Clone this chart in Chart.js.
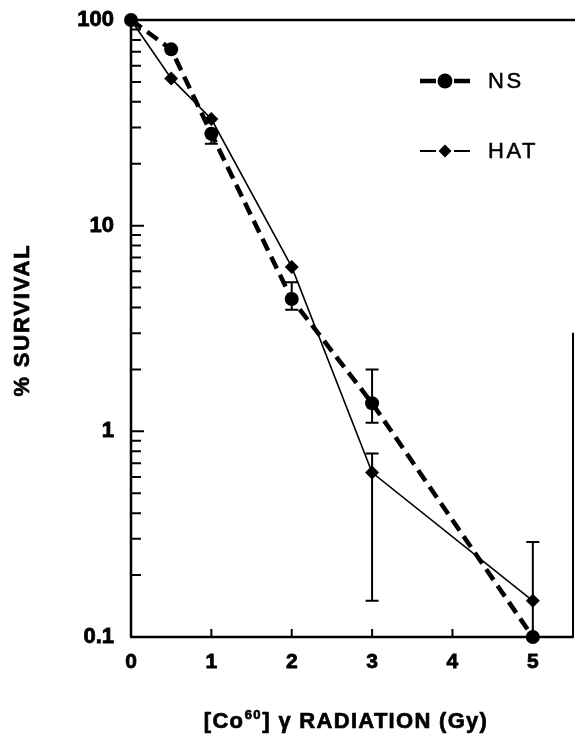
<!DOCTYPE html>
<html><head><meta charset="utf-8">
<script src="https://cdn.jsdelivr.net/npm/chart.js@4.4.1/dist/chart.umd.min.js"></script>
<style>html,body{margin:0;padding:0;background:#fff;overflow:hidden;}</style>
</head><body>
<canvas id="c" width="575" height="736"></canvas>
<script>
// ---- data ----
const doses = [0, 0.5, 1, 2, 3, 5];
const nsSurvival = [100, 72, 28, 4.4, 1.37, 0.1];
const hatSurvival = [100, 52, 33, 6.3, 0.63, 0.15];
const nsErrLow = [null, null, 25, 3.9, 1.1, null];
const nsErrHigh = [null, null, null, 5.3, 2.0, null];
const hatErrLow = [null, null, null, null, 0.15, 0.1];
const hatErrHigh = [null, null, null, null, 0.78, 0.29];
const xTicks = [0, 1, 2, 3, 4, 5];
const yTicks = [0.1, 1, 10, 100];
const seriesNames = ['NS', 'HAT'];
const xTitleParts = ['[Co', '60', '] \u03B3 RADIATION (Gy)'];
const yTitle = '% SURVIVAL';

const FONT = '"Liberation Sans", Arial, Helvetica, sans-serif';

function pts(ys){ return doses.map((x,i)=>({x:x, y:ys[i]})); }

const frame = {
  id:'frame',
  beforeDatasetsDraw(chart){
    const {ctx, chartArea:ca, scales:{x, y}} = chart;
    ctx.save();
    ctx.strokeStyle = '#000';
    ctx.lineCap = 'butt';
    ctx.lineWidth = 2.5;
    ctx.beginPath();
    ctx.moveTo(ca.left, ca.top); ctx.lineTo(chart.width, ca.top);
    ctx.moveTo(ca.left, ca.top - 1); ctx.lineTo(ca.left, ca.bottom);
    ctx.moveTo(ca.left - 1, ca.bottom); ctx.lineTo(ca.right, ca.bottom);
    ctx.stroke();
    ctx.lineWidth = 2;
    ctx.beginPath();
    ctx.moveTo(ca.right, ca.top + 0.507*(ca.bottom-ca.top)); ctx.lineTo(ca.right, ca.bottom + 1);
    ctx.stroke();
    // inward y ticks (log minor + major)
    ctx.beginPath();
    for (let d = 0.1; d < 100; d *= 10) {
      for (let m = 1; m <= 9; m++) {
        if (m === 1 && d < 0.5) continue;
        const py = y.getPixelForValue(d*m);
        const len = m === 1 ? 13 : 10;
        ctx.moveTo(ca.left, py); ctx.lineTo(ca.left + len, py);
      }
    }
    ctx.stroke();
    // inward x ticks
    ctx.beginPath();
    xTicks.forEach(v => {
      if (v === 0) return;
      const px = x.getPixelForValue(v);
      ctx.moveTo(px, ca.bottom); ctx.lineTo(px, ca.bottom - 8);
    });
    ctx.stroke();
    // error bars
    const bars = [[nsErrLow, nsErrHigh, nsSurvival], [hatErrLow, hatErrHigh, hatSurvival]];
    ctx.lineWidth = 2;
    bars.forEach(([lo, hi, val]) => {
      doses.forEach((d, i) => {
        const px = x.getPixelForValue(d);
        const pv = y.getPixelForValue(val[i]);
        ctx.beginPath();
        if (lo[i] != null) {
          const pl = y.getPixelForValue(lo[i]);
          ctx.moveTo(px, pv); ctx.lineTo(px, pl);
          ctx.moveTo(px - 6.5, pl); ctx.lineTo(px + 6.5, pl);
        }
        if (hi[i] != null) {
          const ph = y.getPixelForValue(hi[i]);
          ctx.moveTo(px, pv); ctx.lineTo(px, ph);
          ctx.moveTo(px - 6.5, ph); ctx.lineTo(px + 6.5, ph);
        }
        ctx.stroke();
      });
    });
    ctx.restore();
  }
};

function heavyText(ctx, t, x, y){
  ctx.fillText(t, x, y);
  ctx.strokeText(t, x, y);
}

const textPlugin = {
  id:'axisTitles',
  afterDraw(chart){
    const ctx = chart.ctx;
    ctx.save();
    ctx.fillStyle = '#000';
    ctx.strokeStyle = '#000';
    ctx.lineWidth = 0.7;
    ctx.lineJoin = 'round';
    ctx.textBaseline = 'alphabetic';
    ctx.textAlign = 'left';
    ctx.letterSpacing = '1.3px';
    const big = 'bold 22px ' + FONT, small = 'bold 13px ' + FONT;
    ctx.font = big; const w1 = ctx.measureText(xTitleParts[0]).width;
    const w3 = ctx.measureText(xTitleParts[2]).width;
    ctx.font = small; const w2 = ctx.measureText(xTitleParts[1]).width;
    const total = w1 + w2 + 1 + w3;
    const x0 = 346 - total/2;
    const base = 728;
    ctx.font = big; heavyText(ctx, xTitleParts[0], x0, base);
    ctx.font = small; heavyText(ctx, xTitleParts[1], x0 + w1 + 0.5, base - 9);
    ctx.font = big; heavyText(ctx, xTitleParts[2], x0 + w1 + w2 + 1, base);
    // y title (rotated)
    ctx.translate(23, 320);
    ctx.rotate(-Math.PI/2);
    ctx.letterSpacing = '1.8px';
    ctx.font = 'bold 22px ' + FONT;
    ctx.textAlign = 'center';
    ctx.textBaseline = 'middle';
    heavyText(ctx, yTitle, 0, 0);
    ctx.restore();
  }
};

const legendPlugin = {
  id:'customLegend',
  afterDraw(chart){
    const ctx = chart.ctx;
    const rows = [{y:81, i:0, lw:4.5, r:7.5}, {y:151, i:1, lw:2, r:6.5}];
    rows.forEach(row => {
      const ds = chart.data.datasets[row.i];
      ctx.save();
      ctx.strokeStyle = '#000'; ctx.fillStyle = '#000';
      ctx.lineWidth = row.lw;
      ctx.beginPath();
      ctx.moveTo(420, row.y); ctx.lineTo(436, row.y);
      ctx.moveTo(454, row.y); ctx.lineTo(470, row.y);
      ctx.stroke();
      ctx.beginPath();
      if (ds.pointStyle === 'circle') {
        ctx.arc(445, row.y, row.r, 0, Math.PI*2);
      } else {
        ctx.moveTo(445, row.y - row.r); ctx.lineTo(445 + row.r, row.y);
        ctx.lineTo(445, row.y + row.r); ctx.lineTo(445 - row.r, row.y);
        ctx.closePath();
      }
      ctx.fill();
      ctx.font = '22px ' + FONT;
      ctx.letterSpacing = '2.5px';
      ctx.textBaseline = 'middle';
      ctx.textAlign = 'left';
      ctx.lineWidth = 0.5;
      heavyText(ctx, ds.label, 488, row.y + 1);
      ctx.restore();
    });
  }
};

new Chart(document.getElementById('c'), {
  type: 'scatter',
  data: {
    datasets: [
      {
        label: seriesNames[0], data: pts(nsSurvival), showLine: true,
        borderColor: '#000', backgroundColor: '#000', borderWidth: 4.5,
        borderDash: [13, 7], pointStyle: 'circle', pointRadius: 7,
        pointBorderWidth: 0, pointHoverRadius: 7, clip: false
      },
      {
        label: seriesNames[1], data: pts(hatSurvival), showLine: true,
        borderColor: '#000', backgroundColor: '#000', borderWidth: 1.6,
        pointStyle: 'rectRot', pointRadius: 7, pointBorderWidth: 0,
        pointHoverRadius: 7, clip: false
      }
    ]
  },
  options: {
    responsive: false,
    animation: false,
    layout: { autoPadding: false, padding: { top: 20, right: 2, left: 0, bottom: 0 } },
    plugins: { legend: { display: false }, tooltip: { enabled: false } },
    scales: {
      x: {
        type: 'linear', min: 0, max: 5.5,
        afterBuildTicks: s => { s.ticks = xTicks.map(v => ({value: v})); },
        afterFit: s => { s.height = 99; s.paddingLeft = 0; s.paddingRight = 0; },
        grid: { display: false, drawTicks: false },
        border: { display: false },
        ticks: { color: '#000', padding: 13, font: { family: FONT, size: 21, weight: 'bold' },
                 textStrokeColor: '#000', textStrokeWidth: 0.8,
                 callback: v => String(v), maxRotation: 0 },
        title: { display: false, text: xTitleParts.join('') }
      },
      y: {
        type: 'logarithmic', min: 0.1, max: 100,
        afterBuildTicks: s => { s.ticks = yTicks.map(v => ({value: v})); },
        afterFit: s => { s.width = 131; s.paddingTop = 0; s.paddingBottom = 0; },
        grid: { display: false, drawTicks: false },
        border: { display: false },
        ticks: { color: '#000', padding: 17, font: { family: FONT, size: 22, weight: 'bold' },
                 textStrokeColor: '#000', textStrokeWidth: 0.8,
                 callback: v => String(v) },
        title: { display: false, text: yTitle }
      }
    }
  },
  plugins: [frame, textPlugin, legendPlugin]
});
</script>
</body></html>
